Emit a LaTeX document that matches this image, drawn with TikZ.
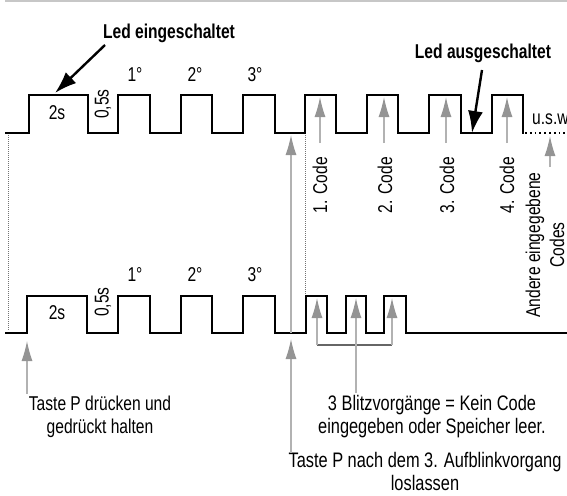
\documentclass[tikz,border=0pt]{standalone}
\usepackage{fontspec}
\setmainfont[FakeStretch=0.78]{Liberation Sans}
\usetikzlibrary{arrows.meta}
\tikzset{
  wave/.style={line width=2.2pt, line join=miter, line cap=rect},
  lbl/.style={inner sep=0pt, font=\fontsize{20}{23}\selectfont},
  biglbl/.style={inner sep=0pt, font=\fontsize{21}{23}\selectfont},
  blbl/.style={inner sep=0pt, font=\fontsize{20}{23}\selectfont\bfseries},
  garrow/.style={draw=black!30, line width=1.2pt, -{Latex[length=20pt,width=11pt,color=black!42]}},
  barrow/.style={draw=black, line width=2.4pt, -{Latex[length=22pt,width=15pt]}},
  guide/.style={draw=black!55, line width=0.7pt, dash pattern=on 1pt off 1pt},
}
\begin{document}
\begin{tikzpicture}[x=1pt,y=-1pt]
\useasboundingbox (0,0) rectangle (567,495);
\clip (0,0) rectangle (567,495);
% top grey rule
\fill[black!22] (5,0) rectangle (567,2.2);

% guide lines
\draw[guide] (8,133) -- (8,330);
\draw[guide] (305,133) -- (305,296);

% top waveform
\draw[wave] (6,133) \foreach \a/\b in {29/88,118/150,181/212,243/275,305/336,367/398,429/461,492/523}{ -- (\a,133) -- (\a,95) -- (\b,95) -- (\b,133)};
\draw[line width=1.8pt, dash pattern=on 1.8pt off 3pt] (525,133) -- (567,133);

% bottom waveform
\draw[wave] (6,333) \foreach \a/\b in {27/87,118/150,181/212,243/275,306/327,346/366,384/406}{ -- (\a,333) -- (\a,296) -- (\b,296) -- (\b,333)} -- (567,333);

% labels top
\node[blbl] (ledon) at (169,33) {Led eingeschaltet};
\node[blbl] (ledoff) at (483,53) {Led ausgeschaltet};
\node[lbl] (t2s) at (57,113) {2s};
\node[lbl,rotate=90] (t05) at (103,104) {0,5s};
\node[lbl] (t1) at (135,75) {1°};
\node[lbl] (t2) at (195,75) {2°};
\node[lbl] (t3) at (255,75) {3°};
\node[lbl,anchor=base west] (usw) at (532,124) {u.s.w.};

% labels bottom waveform
\node[lbl] (b2s) at (57,313) {2s};
\node[lbl,rotate=90] (b05) at (103,302) {0,5s};
\node[lbl] (b1) at (135,275) {1°};
\node[lbl] (b2) at (195,275) {2°};
\node[lbl] (b3) at (255,275) {3°};

% code labels
\node[lbl,rotate=90,anchor=east] (c1) at (320,157) {1. Code};
\node[lbl,rotate=90,anchor=east] (c2) at (385,157) {2. Code};
\node[lbl,rotate=90,anchor=east] (c3) at (447,157) {3. Code};
\node[lbl,rotate=90,anchor=east] (c4) at (507,157) {4. Code};
\node[lbl,rotate=90,align=center,font=\fontsize{20}{24}\selectfont] (andere) at (545,245) {Andere eingegebene\\Codes};

% bottom texts
\node[lbl,align=center] (pressP) at (100,417) {Taste P drücken und\\gedrückt halten};
\node[biglbl,align=center] (blitz) at (432,417) {3 Blitzvorgänge = Kein Code\\eingegeben oder Speicher leer.};
\node[biglbl,align=center] (releaseP) at (425,471) {Taste P nach dem 3. Aufblinkvorgang\\loslassen};

% black arrows
\coordinate (onTip) at (55,93);
\coordinate (offTip) at (472,133);
\draw[barrow] (105,45) -- (onTip);
\draw[barrow] (482,70) -- (offTip);

% grey arrows top row
\foreach \x/\n in {320/1,384/2,446/3,507/4}{
  \coordinate (ct\n) at (\x,97);
  \coordinate (cs\n) at (\x,143);
  \draw[garrow] (cs\n) -- (ct\n);
}
\coordinate (uswTip) at (550,136);
\coordinate (uswStart) at (550,167);
\draw[garrow] (uswStart) -- (uswTip);

% release arrows
\coordinate (relLow) at (291,453);
\coordinate (relMid) at (291,339);
\coordinate (relMid2) at (291,333);
\coordinate (relTop) at (291,135);
\draw[garrow] (relLow) -- (relMid);
\draw[garrow] (relMid2) -- (relTop);

% press arrow
\coordinate (pressTip) at (27,341);
\coordinate (pressStart) at (27,394);
\draw[garrow] (pressStart) -- (pressTip);

% bracket arrows for 3 blinks
\coordinate (k1) at (317,345);
\coordinate (k2) at (356,345);
\coordinate (k3) at (392,345);
\draw[draw=black!60, line width=1.1pt] (k1) -- (k3);
\foreach \x/\n in {317/1,356/2,392/3}{
  \coordinate (kt\n) at (\x,298);
  \draw[garrow] (k\n) -- (kt\n);
}
\coordinate (kb) at (356,393);
\draw[draw=black!30, line width=1.2pt] (k2) -- (kb);
\end{tikzpicture}
\end{document}
